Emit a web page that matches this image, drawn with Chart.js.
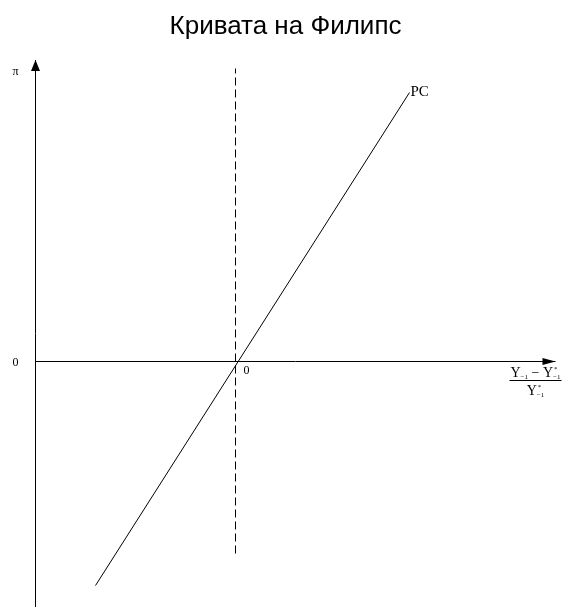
<!DOCTYPE html>
<html>
<head>
<meta charset="utf-8">
<script src="https://cdn.jsdelivr.net/npm/chart.js@4"></script>
<style>
    body { margin: 0; background: #fff; }
</style>
</head>
<body>
<canvas id="curvaPhillips" width="570" height="612"></canvas>
<script>
// Curva de Phillips: inflación (π) frente a la brecha del producto del periodo anterior

const titulo = 'Кривата на Филипс'
const rangoX = [-11, 16]
const rangoY = [-12.275, 15.075]
const ejeYEnX = -10

// recta PC
const pcX = [-7, 8.7]
const pcY = [-11.2, 13.45]

// línea discontinua vertical en x = 0
const discontinuaX = [0, 0]
const discontinuaY = [-9.6, 14.65]

// etiquetas
const etiquetaPC = 'PC'
const etiquetaY = 'π'
const etiquetaCero = '0'

const puntos = (xs, ys) => xs.map((x, i) => ({ x: x, y: ys[i] }))

// dibuja trozos de texto seguidos (con subíndices y asteriscos), centrados en cx
function textoCompuesto(ctx, trozos, cx, base) {
    let ancho = 0
    trozos.forEach(t => {
        ctx.font = t.tam + 'px "Liberation Serif"'
        ancho += ctx.measureText(t.txt).width
    })
    let x = cx - ancho / 2
    ctx.textAlign = 'left'
    ctx.textBaseline = 'alphabetic'
    trozos.forEach(t => {
        ctx.font = t.tam + 'px "Liberation Serif"'
        ctx.fillText(t.txt, x, base + (t.dy || 0))
        if (t.sup) {
            ctx.fillText(t.sup, x + 1, base - 6)
        }
        x += ctx.measureText(t.txt).width
    })
    return ancho
}

const flechasYTextos = {
    id: 'flechasYTextos',
    afterDatasetsDraw(chart) {
        const ctx = chart.ctx
        const sx = chart.scales.x
        const sy = chart.scales.y
        const ox = sx.getPixelForValue(ejeYEnX)
        const oy = sy.getPixelForValue(0)
        ctx.save()
        ctx.fillStyle = '#000'

        // flecha del eje Y
        const topY = sy.getPixelForValue(rangoY[1])
        ctx.beginPath()
        ctx.moveTo(ox, topY)
        ctx.lineTo(ox - 4.5, topY + 11)
        ctx.lineTo(ox + 4.5, topY + 11)
        ctx.closePath()
        ctx.fill()

        // flecha del eje X
        const finX = sx.getPixelForValue(rangoX[1])
        ctx.beginPath()
        ctx.moveTo(finX, oy)
        ctx.lineTo(finX - 13, oy - 3.5)
        ctx.lineTo(finX - 13, oy + 3.5)
        ctx.closePath()
        ctx.fill()

        // π y ceros
        ctx.font = '12px "Liberation Serif"'
        ctx.textAlign = 'center'
        ctx.textBaseline = 'middle'
        ctx.fillText(etiquetaY, ox - 20, topY + 12)
        ctx.fillText(etiquetaCero, ox - 20, oy + 1)
        ctx.fillText(etiquetaCero, sx.getPixelForValue(0) + 11, oy + 9)

        // PC al final de la recta
        ctx.font = '15px "Liberation Serif"'
        ctx.textAlign = 'left'
        ctx.fillText(etiquetaPC, sx.getPixelForValue(pcX[1]) + 1, sy.getPixelForValue(pcY[1]))

        // etiqueta del eje X: (Y-1 - Y*-1) / Y*-1
        const cx = finX - 20
        const raya = oy + 19
        const ancho = textoCompuesto(ctx, [
            { txt: 'Y', tam: 14 },
            { txt: '−1', tam: 7, dy: 2 },
            { txt: ' − ', tam: 14 },
            { txt: 'Y', tam: 14 },
            { txt: '−1', tam: 7, dy: 2, sup: '*' }
        ], cx, raya - 4)
        ctx.fillRect(cx - ancho / 2 - 1, raya - 0.5, ancho + 2, 1)
        textoCompuesto(ctx, [
            { txt: 'Y', tam: 14 },
            { txt: '−1', tam: 7, dy: 2, sup: '*' }
        ], cx, raya + 14)
        ctx.restore()
    }
}

const ctx = document.getElementById('curvaPhillips')
const myChart = new Chart(ctx, {
    type: 'scatter',
    data: {
        datasets: [
            {
                label: 'eje X',
                data: puntos([ejeYEnX, rangoX[1]], [0, 0]),
                borderColor: '#000'
            },
            {
                label: 'eje Y',
                data: puntos([ejeYEnX, ejeYEnX], rangoY),
                borderColor: '#000'
            },
            {
                label: 'x = 0',
                data: puntos(discontinuaX, discontinuaY),
                borderColor: '#000',
                borderDash: [8, 4]
            },
            {
                label: etiquetaPC,
                data: puntos(pcX, pcY),
                borderColor: '#000'
            }
        ].map(d => Object.assign(d, { showLine: true, pointRadius: 0, borderWidth: 1, clip: false }))
    },
    options: {
        responsive: false,
        animation: false,
        layout: {
            padding: { left: 15.5, right: 14.5, top: 0, bottom: 5 }
        },
        scales: {
            x: { type: 'linear', min: rangoX[0], max: rangoX[1], display: false },
            y: { type: 'linear', min: rangoY[0], max: rangoY[1], display: false }
        },
        plugins: {
            legend: { display: false },
            tooltip: { enabled: false },
            title: {
                display: true,
                text: titulo,
                color: '#000',
                font: { family: '"Liberation Sans", Arial, sans-serif', size: 26, weight: 'normal' },
                padding: { top: 11, bottom: 17.8 }
            }
        }
    },
    plugins: [flechasYTextos]
})
</script>
</body>
</html>
